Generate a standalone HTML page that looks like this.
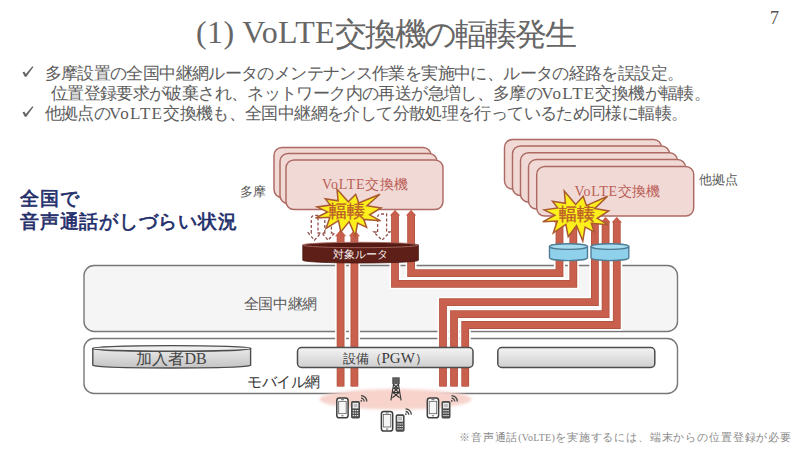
<!DOCTYPE html>
<html><head><meta charset="utf-8">
<style>
html,body{margin:0;padding:0;background:#fff;}
body{width:800px;height:450px;overflow:hidden;position:relative;font-family:"Liberation Serif",serif;}
.t{position:absolute;white-space:nowrap;line-height:1;}
svg{position:absolute;left:0;top:0;}
.v{letter-spacing:1.2px;font-size:17px;margin-left:-1px}
</style></head><body>
<svg width="800" height="450" viewBox="0 0 800 450">
<defs>
<linearGradient id="gbox" x1="0" y1="0" x2="0" y2="1">
<stop offset="0" stop-color="#f4f4f4"/><stop offset="1" stop-color="#cfcfcf"/></linearGradient>
<linearGradient id="gdb" x1="0" y1="0" x2="0" y2="1">
<stop offset="0" stop-color="#e9e9e9"/><stop offset="1" stop-color="#c4c4c4"/></linearGradient>
<filter id="blur3" x="-20%" y="-50%" width="140%" height="200%"><feGaussianBlur stdDeviation="1.6"/></filter>
</defs>
<!-- check marks -->
<g fill="#636363">
<polygon points="22.5,72.5 24.3,71.6 25.8,74.1 32.4,66.3 33.4,67.1 26.3,76.7 24.9,76.7"/>
<polygon points="22.5,112.5 24.3,111.6 25.8,114.1 32.4,106.3 33.4,107.1 26.3,116.7 24.9,116.7"/>
</g>
<!-- big network boxes -->
<rect x="84" y="265.5" width="593.5" height="66" rx="10" fill="#f5f5f5" stroke="#777" stroke-width="1.4"/>
<rect x="84" y="338.5" width="593.5" height="55" rx="10" fill="#fff" stroke="#777" stroke-width="1.4"/>
<!-- pink ellipse -->
<ellipse cx="395.5" cy="399.3" rx="76" ry="10.3" fill="#f7d3cc" filter="url(#blur3)"/>

<!-- red bars: white outline then red -->
<g fill="none" stroke-linejoin="miter" stroke-linecap="butt">
<g stroke="#fff" stroke-width="11">
<path d="M340.6 386.6V235.5"/>
<path d="M354.4 386.6V235.5"/>
<path d="M395 214.5V283.8H573.3V221.5"/>
<path d="M411.1 214.5V273.2H559.5V221.5"/>
<path d="M443 386.6V302.2H594.9V221.5"/>
<path d="M454 386.6V314.2H605.6V221.5"/>
<path d="M465.2 386.6V325H616.8V221.5"/>
</g>
</g>
<g fill="#c9604d" stroke="#fff" stroke-width="1.4" stroke-linejoin="miter">
<polygon points="333.4,237 340.6,228.5 347.8,237"/>
<polygon points="347.2,237 354.4,228.5 361.6,237"/>
<polygon points="388.2,216.2 395,208.8 401.8,216.2"/>
<polygon points="404.3,216.2 411.1,208.8 417.9,216.2"/>
<polygon points="552.7,223.2 559.5,215.8 566.3,223.2"/>
<polygon points="566.5,223.2 573.3,215.8 580.1,223.2"/>
<polygon points="588.1,223.2 594.9,215.8 601.7,223.2"/>
<polygon points="598.8,223.2 605.6,215.8 612.4,223.2"/>
<polygon points="610,223.2 616.8,215.8 623.6,223.2"/>
</g>
<g fill="none" stroke-linejoin="miter" stroke-linecap="butt">
<g stroke="#b0533f" stroke-width="7.8">
<path d="M340.6 386.6V235.5"/>
<path d="M354.4 386.6V235.5"/>
<path d="M395 214.5V283.8H573.3V221.5"/>
<path d="M411.1 214.5V273.2H559.5V221.5"/>
<path d="M443 386.6V302.2H594.9V221.5"/>
<path d="M454 386.6V314.2H605.6V221.5"/>
<path d="M465.2 386.6V325H616.8V221.5"/>
</g>
<g stroke="#c9604d" stroke-width="6.2">
<path d="M340.6 386.6V235.5"/>
<path d="M354.4 386.6V235.5"/>
<path d="M395 214.5V283.8H573.3V221.5"/>
<path d="M411.1 214.5V273.2H559.5V221.5"/>
<path d="M443 386.6V302.2H594.9V221.5"/>
<path d="M454 386.6V314.2H605.6V221.5"/>
<path d="M465.2 386.6V325H616.8V221.5"/>
</g>
</g>

<!-- VoLTE stacks (left: Tama) -->
<g fill="#f1d9d5" stroke="#ad6a63" stroke-width="1.45">
<rect x="274" y="147.5" width="157" height="50" rx="8"/>
<rect x="280" y="153.5" width="157" height="50" rx="8"/>
<rect x="286" y="160" width="157" height="49.5" rx="8"/>
</g>
<!-- right stack -->
<g fill="#f1d9d5" stroke="#ad6a63" stroke-width="1.45">
<rect x="504.5" y="139.5" width="157" height="49.5" rx="8"/>
<rect x="512.5" y="146" width="157" height="49.5" rx="8"/>
<rect x="520.5" y="152.7" width="157" height="49.5" rx="8"/>
<rect x="528.5" y="159.5" width="157" height="49.5" rx="8"/>
<rect x="536.7" y="166.5" width="157" height="49.5" rx="8"/>
</g>

<!-- router -->
<g>
<path d="M302.8 245V260.3A57.8 2.7 0 0 0 418.4 260.3V245Z" fill="#5e1f19" stroke="#45150f" stroke-width="0.8"/>
<ellipse cx="360.6" cy="245" rx="57.8" ry="2.7" fill="#561a14" stroke="#a86a60" stroke-width="0.9"/>
</g>

<!-- blue cylinders -->
<g fill="#8fd0ea" stroke="#4f7d96" stroke-width="1.4">
<path d="M549.5 246.6V257.8A19 2.8 0 0 0 587.5 257.8V246.6Z"/>
<ellipse cx="568.5" cy="246.6" rx="19" ry="2.8" fill="#a8dcf0"/>
<path d="M591 246.6V257.8A18.9 2.8 0 0 0 628.8 257.8V246.6Z"/>
<ellipse cx="609.9" cy="246.6" rx="18.9" ry="2.8" fill="#a8dcf0"/>
</g>

<!-- DB cylinder -->
<g stroke="#4d4d4d" stroke-width="1.4">
<path d="M92.8 348.5V365.3A79 2.8 0 0 0 250.6 365.3V348.5Z" fill="url(#gdb)"/>
<ellipse cx="171.7" cy="348.4" rx="78.9" ry="2.8" fill="#eeeeee"/>
</g>
<!-- PGW and third box -->
<rect x="297.5" y="347.5" width="175.5" height="20" rx="4" fill="url(#gbox)" stroke="#4d4d4d" stroke-width="1.5"/>
<rect x="497.8" y="347.5" width="157" height="20" rx="4" fill="url(#gbox)" stroke="#4d4d4d" stroke-width="1.5"/>

<!-- dashed arrows -->
<g fill="rgba(255,255,255,0.7)" stroke="#94524c" stroke-width="1.3" stroke-dasharray="3 2">
<path d="M311.3 233V219Q311.3 215.3 315 215.3H318V233H320.8L314.5 240.2L308.4 233Z"/>
<path d="M324.8 233V215.5H331.4V233H334.5L328.1 240.2L321.8 233Z"/>
<path d="M377.6 232V217.5Q377.6 214 381 214H386.6V232H390L382 240.2L373.8 232Z"/>
</g>

<!-- stars -->
<g fill="#fcef1c" stroke="#aa5a30" stroke-width="1.5" stroke-linejoin="miter">
<polygon points="348.2,201.8 337.0,189.3 338.1,200.8 325.3,198.9 330.4,205.1 317.0,206.9 327.6,211.9 315.5,218.0 329.9,217.3 326.0,228.4 338.5,220.6 340.8,232.0 349.1,221.6 355.3,236.0 357.6,223.1 366.6,227.4 363.8,219.4 380.6,220.8 369.7,214.8 381.0,207.9 367.0,205.8 379.9,194.3 358.8,203.0 355.7,194.3"/>
<polygon points="575.7,204.4 564.3,191.0 565.4,203.3 552.5,201.3 557.7,207.9 544.2,209.8 554.9,215.2 542.7,221.8 557.3,221.0 553.3,232.9 565.9,224.5 568.2,236.7 576.5,225.6 582.8,241.0 585.1,227.2 594.1,231.8 591.4,223.3 608.3,224.8 597.3,218.3 608.7,210.9 594.6,208.6 607.6,196.3 586.4,205.6 583.2,196.3"/>
</g>

<!-- tower -->
<g>
<rect x="392.3" y="377.3" width="7.4" height="6.9" fill="#4a4a4a"/>
<path d="M394.2 377.5v6.5M396 377.5v6.5M397.8 377.5v6.5" stroke="#8a8a8a" stroke-width="0.6"/>
<g stroke="#333" stroke-width="1.1" fill="none">
<path d="M393.6 384.2L390.9 400.4M398.4 384.2L401.1 400.4"/>
<path d="M393.6 384.5L397.9 388.3L393 392.6L399.6 397.8M398.4 384.5L394.1 388.3L399 392.6L392.4 397.8"/>
<path d="M393.2 388.3h5.6M392.6 392.6h6.8"/>
</g>
</g>

<!-- phones -->
<g id="ph1">
<rect x="336.8" y="398.1" width="11.3" height="19.7" rx="2.6" fill="#fff" stroke="#3d3d3d" stroke-width="1.5"/>
<rect x="338.7" y="401.3" width="7.5" height="12.4" fill="#f6f6f6" stroke="#5a5a5a" stroke-width="0.8"/>
<path d="M341 399.7h3M341.3 415.8h2.3" stroke="#555" stroke-width="0.9"/>
<rect x="351" y="401" width="9" height="17.4" rx="1.6" fill="#4a4a4a"/>
<rect x="352.6" y="402.8" width="5.8" height="5.6" fill="#f2f2f2"/>
<rect x="353.6" y="403.8" width="3.8" height="3.4" fill="#bdbdbd"/>
<g fill="#e6e6e6"><rect x="352.7" y="410" width="1.4" height="1.2"/><rect x="354.8" y="410" width="1.4" height="1.2"/><rect x="356.9" y="410" width="1.4" height="1.2"/>
<rect x="352.7" y="412.5" width="1.4" height="1.2"/><rect x="354.8" y="412.5" width="1.4" height="1.2"/><rect x="356.9" y="412.5" width="1.4" height="1.2"/>
<rect x="352.7" y="415" width="1.4" height="1.2"/><rect x="354.8" y="415" width="1.4" height="1.2"/><rect x="356.9" y="415" width="1.4" height="1.2"/></g>
<circle cx="361.3" cy="400.8" r="0.9" fill="#444"/>
<path d="M361 398.2a3.2 3.2 0 0 1 3.2 3.2M361 395.6a5.8 5.8 0 0 1 5.8 5.8" stroke="#444" stroke-width="1.3" fill="none"/>
</g>
<use href="#ph1" x="44.6" y="13.3"/>
<use href="#ph1" x="90.5" y="0"/>

<!-- texts in diagram -->
<g font-family="Liberation Serif, serif">
<text x="322" y="189" font-size="14" fill="#bb5f58" letter-spacing="0.25"><tspan font-size="14" letter-spacing="0.75">VoLTE</tspan>交換機</text>
<text x="574.5" y="195.5" font-size="14" fill="#bb5f58" letter-spacing="0.25"><tspan font-size="14" letter-spacing="0.75">VoLTE</tspan>交換機</text>
<text x="347" y="216.5" font-size="18" fill="#bb5e28" stroke="#bb5e28" stroke-width="0.35" text-anchor="middle">輻輳</text>
<text x="577" y="220" font-size="18" fill="#bb5e28" stroke="#bb5e28" stroke-width="0.35" text-anchor="middle">輻輳</text>
<text x="360" y="257.7" font-size="11" fill="#f6eeec" text-anchor="middle">対象ルータ</text>
</g>
<g font-family="Liberation Sans, sans-serif">
<text x="280.3" y="309" font-size="15" letter-spacing="-0.4" fill="#595959" text-anchor="middle">全国中継網</text>
<text x="283.5" y="386.5" font-size="15" letter-spacing="-0.4" fill="#333" text-anchor="middle">モバイル網</text>
<text x="252.7" y="195.5" font-size="13" fill="#595959" text-anchor="middle">多摩</text>
<text x="718.5" y="183.5" font-size="13" fill="#595959" text-anchor="middle">他拠点</text>
</g>
<g font-family="Liberation Serif, serif">
<text x="171.5" y="364" font-size="16" fill="#444" text-anchor="middle">加入者DB</text>
<text x="342.5" y="362.5" font-size="13" fill="#3a3a3a">設備（<tspan font-size="15">PGW</tspan>）</text>
</g>
</svg>

<div class="t" style="left:196px;top:17.5px;font-size:32px;letter-spacing:-2.2px;color:#666;"><span style="font-size:32px;letter-spacing:0.4px;position:relative;top:-1.8px">(1) VoLTE</span>交換機の輻輳発生</div>
<div class="t" style="left:770px;top:9px;font-size:18px;color:#555;">7</div>

<div class="t" style="left:44.5px;top:65px;font-size:17px;letter-spacing:-0.62px;color:#5d5d5d;">多摩設置の全国中継網ルータのメンテナンス作業を実施中に、ルータの経路を誤設定。</div>
<div class="t" style="left:50.8px;top:85px;font-size:17px;letter-spacing:-0.62px;color:#5d5d5d;">位置登録要求が破棄され、ネットワーク内の再送が急増し、多摩の<span class="v">VoLTE</span>交換機が輻輳。</div>
<div class="t" style="left:44.5px;top:105px;font-size:17px;letter-spacing:-0.62px;color:#5d5d5d;">他拠点の<span class="v">VoLTE</span>交換機も、全国中継網を介して分散処理を行っているため同様に輻輳。</div>

<div class="t" style="left:20px;top:188.5px;font-size:19px;letter-spacing:0.78px;color:#1f2e6a;font-family:'Liberation Sans',sans-serif;-webkit-text-stroke:0.7px #1f2e6a;">全国で</div>
<div class="t" style="left:20px;top:212px;font-size:19px;letter-spacing:0.78px;color:#1f2e6a;font-family:'Liberation Sans',sans-serif;-webkit-text-stroke:0.7px #1f2e6a;">音声通話がしづらい状況</div>

<div class="t" style="left:459px;top:432px;font-size:11px;letter-spacing:0.85px;color:#8a8a8a;">※音声通話<span style="font-size:10px;letter-spacing:0.25px">(VoLTE)</span>を実施するには、端末からの位置登録が必要</div>
</body></html>
